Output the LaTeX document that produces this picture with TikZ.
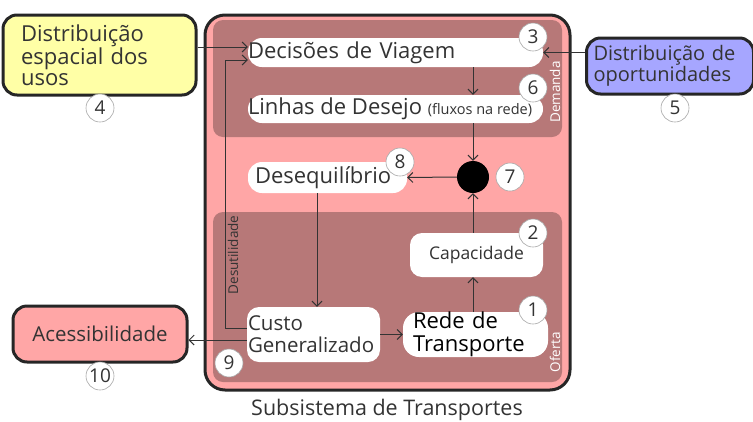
\documentclass[tikz,border=0pt]{standalone}
\usepackage{fontspec}
\setmainfont{Open Sans}
\usetikzlibrary{arrows.meta}
\definecolor{outerpink}{HTML}{FFA6A6}
\definecolor{innerrose}{HTML}{B77878}
\definecolor{yel}{HTML}{FFFFA6}
\definecolor{lav}{HTML}{A6A6FF}
\definecolor{txt}{HTML}{333333}
\begin{document}
\begin{tikzpicture}[x=1pt,y=-1pt,
  region/.style={fill=innerrose, rounded corners=10pt, inner sep=0pt},
  wbox/.style={fill=white, rounded corners=14pt, inner sep=0pt, text=txt, font=\fontsize{22}{24}\selectfont},
  num/.style={circle, draw=gray!70, fill=white, line width=0.6pt, minimum size=28pt, inner sep=0pt, font=\fontsize{19}{19}\selectfont, text=txt},
  ext/.style={draw=black!85, line width=3pt, rounded corners=14pt, inner sep=0pt, text=txt},
  conn/.style={draw=black!80, line width=1pt, -{Straight Barb[length=5pt,width=10pt]}},
  side/.style={rotate=90, font=\fontsize{13.5}{13.5}\selectfont, inner sep=0pt}]
\useasboundingbox (0,0) rectangle (753,421);
% subsystem
\node[draw=black!85, line width=3pt, fill=outerpink, rounded corners=20pt, minimum width=365pt, minimum height=375pt, inner sep=0pt] (sys) at (387.5,202.5) {};
\node[region, minimum width=349pt, minimum height=117pt] (dem) at (387.5,78.5) {};
\node[region, minimum width=349pt, minimum height=170pt] (ofe) at (387.5,297) {};
\node[side, text=white] (demlab) at (555,92) {Demanda};
\node[side, text=white] (ofelab) at (555,352) {Oferta};
\node[side, text=txt] (deslab) at (233,255) {Desutilidade};
% boxes
\node[wbox, minimum width=295pt, minimum height=29pt, text width=295pt, align=left] (dec) at (395.5,52.5) {Decisões de Viagem};
\node[wbox, minimum width=295pt, minimum height=28pt] (lin) at (395.5,109) {};
\node[anchor=west, inner sep=0pt, text=txt, font=\fontsize{22}{24}\selectfont] (lintext) at (lin.west) {Linhas de Desejo {\fontsize{14.5}{15}\selectfont(fluxos na rede)}};
\node[wbox, minimum width=159pt, minimum height=31pt, inner xsep=7pt, text width=145pt, align=left] (deseq) at (327.5,177.5) {Desequilíbrio};
\node[wbox, rounded corners=12pt, minimum width=133pt, minimum height=55pt, inner xsep=1pt, text width=131pt, align=left, font=\fontsize{20.5}{22}\selectfont] (custo) at (313.5,334.5) {Custo\\Generalizado};
\node[wbox, rounded corners=16pt, minimum width=135pt, minimum height=45pt, inner xsep=10pt, text width=125pt, align=left, text=black, font=\fontsize{22}{22.5}\selectfont] (rede) at (475.5,334.5) {Rede de\\Transporte};
\node[wbox, rounded corners=12pt, minimum width=133pt, minimum height=44pt, font=\fontsize{17.5}{19}\selectfont] (cap) at (476.5,255) {Capacidade};
\node[circle, fill=black, minimum size=32pt, inner sep=0pt] (dot) at (473,177) {};
% external boxes
\node[ext, fill=yel, minimum width=175pt, minimum height=80pt, inner xsep=18pt, text width=157pt, align=left, font=\fontsize{22}{21}\selectfont] (dist) at (99.5,55) {Distribuição\\espacial dos\\usos};
\node[ext, fill=lav, minimum width=160pt, minimum height=56pt, inner xsep=7pt, text width=153pt, align=left, font=\fontsize{20}{19}\selectfont] (opp) at (670,66) {Distribuição de\\oportunidades};
\node[ext, fill=outerpink, minimum width=174pt, minimum height=56pt, font=\fontsize{20.5}{22}\selectfont] (acc) at (100,334) {Acessibilidade};
% numbers
\node[num] (n3) at (533,37) {3};
\node[num] (n6) at (533,88) {6};
\node[num] (n8) at (400,162) {8};
\node[num] (n7) at (510,177) {7};
\node[num] (n2) at (533,233) {2};
\node[num] (n1) at (533,310) {1};
\node[num] (n9) at (229,363) {9};
\node[num] (n10) at (100,376) {10};
\node[num] (n4) at (100,108) {4};
\node[num] (n5) at (675,108) {5};
% title
\node[font=\fontsize{21.5}{22}\selectfont, text=txt] (title) at (387,410) {Subsistema de Transportes};
% connectors
\draw[conn] (dist.east |- 0,47) -- (dec.west |- 0,47);
\draw[conn] (opp.west |- dec.east) -- (dec.east);
\draw[conn] (dot |- dec.south) -- (dot |- lin.north);
\draw[conn] (dot |- lin.south) -- (dot.north);
\draw[conn] (dot.west) -- (deseq.east);
\draw[conn] (deseq.south -| 317,0) -- (custo.north -| 317,0);
\draw[conn] (custo.west |- 0,328) -- (225,328) -- (225,60) -- (dec.west |- 0,60);
\draw[conn] (custo.west |- 0,340) -- (acc.east |- 0,340);
\draw[conn] (custo.east |- rede.west) -- (rede.west);
\draw[conn] (dot |- rede.north) -- (dot |- cap.south);
\draw[conn] (dot |- cap.north) -- (dot.south);
\end{tikzpicture}
\end{document}
